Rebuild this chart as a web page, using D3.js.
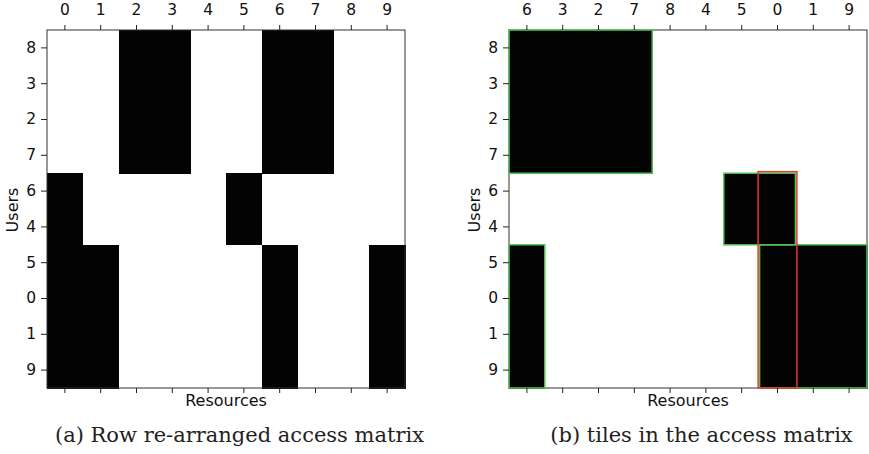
<!DOCTYPE html>
<html>
<head>
<meta charset="utf-8">
<script src="https://cdn.jsdelivr.net/npm/d3@7"></script>
<style>
  body { margin: 0; background: #fff; }
  .axis-label { font-family: "DejaVu Sans", sans-serif; font-size: 16px; fill: #111; }
  .caption { font-family: "DejaVu Serif", serif; font-size: 21px; fill: #222; }
</style>
</head>
<body>
<svg id="chart" width="869" height="454"></svg>
<script>
// Row order (users) shared by both panels
var users = ["8", "3", "2", "7", "6", "4", "5", "0", "1", "9"];

// Column orders (resources) of each panel
var resourcesA = ["0", "1", "2", "3", "4", "5", "6", "7", "8", "9"];
var resourcesB = ["6", "3", "2", "7", "8", "4", "5", "0", "1", "9"];

// Resources each user can access
var access = {
  "8": ["2", "3", "6", "7"],
  "3": ["2", "3", "6", "7"],
  "2": ["2", "3", "6", "7"],
  "7": ["2", "3", "6", "7"],
  "6": ["0", "5"],
  "4": ["0", "5"],
  "5": ["0", "1", "6", "9"],
  "0": ["0", "1", "6", "9"],
  "1": ["0", "1", "6", "9"],
  "9": ["0", "1", "6", "9"]
};

// Tiles found in the re-arranged matrix
var greenTiles = [
  { users: ["8", "3", "2", "7"], resources: ["6", "3", "2", "7"] },
  { users: ["6", "4"], resources: ["5", "0"] },
  { users: ["5", "0", "1", "9"], resources: ["6"] },
  { users: ["5", "0", "1", "9"], resources: ["0", "1", "9"] }
];
var redTiles = [
  { users: ["6", "4", "5", "0", "1", "9"], resources: ["0"] }
];

var captions = ["(a) Row re-arranged access matrix", "(b) tiles in the access matrix"];

var svg = d3.select("#chart");

// Style the tick marks and labels of an axis group
function styleAxis(a) {
  a.select(".domain").remove();
  a.attr("font-family", "DejaVu Sans, sans-serif").attr("font-size", 15.5);
  a.selectAll(".tick line").attr("stroke", "#222");
  a.selectAll(".tick text").attr("fill", "#111");
}

// Draw one access-matrix panel
function drawPanel(left, cols, caption, tiles) {
  var top = 30, size = 358;
  var g = svg.append("g").attr("transform", `translate(${left}, ${top})`);

  var x = d3.scaleBand().domain(cols).range([0, size]);
  var y = d3.scaleBand().domain(users).range([0, size]);

  // Flatten the matrix into cells
  var cells = [];
  users.forEach(function(u) {
    access[u].forEach(function(r) { cells.push({ u: u, r: r }); });
  });

  g.selectAll("rect.cell")
    .data(cells)
    .enter()
    .append("rect")
    .attr("class", "cell")
    .attr("x", function(d) { return x(d.r); })
    .attr("y", function(d) { return y(d.u); })
    .attr("width", x.bandwidth() + 0.5)
    .attr("height", y.bandwidth() + 0.5)
    .attr("shape-rendering", "crispEdges")
    .attr("fill", "#030303");

  // Frame (spines)
  g.append("rect")
    .attr("width", size)
    .attr("height", size)
    .attr("fill", "none")
    .attr("stroke", "#333")
    .attr("stroke-width", 1);

  // Tile outlines
  if (tiles) {
    tiles.forEach(function(t) {
      var pad = t.pad;
      g.selectAll(null)
        .data(t.list)
        .enter()
        .append("rect")
        .attr("x", function(d) { return d3.min(d.resources, x) - pad; })
        .attr("y", function(d) { return d3.min(d.users, y) - pad; })
        .attr("width", function(d) {
          return d3.max(d.resources, x) + x.bandwidth() - d3.min(d.resources, x) + 2 * pad;
        })
        .attr("height", function(d) {
          return d3.max(d.users, y) + y.bandwidth() - d3.min(d.users, y) + pad;
        })
        .attr("fill", "none")
        .attr("stroke", t.color)
        .attr("stroke-width", 1.5);
    });
  }

  // Top axis with labels
  g.append("g")
    .call(d3.axisTop(x).tickSize(5).tickPadding(10))
    .call(styleAxis);

  // Bottom axis, ticks only
  g.append("g")
    .attr("transform", `translate(0, ${size})`)
    .call(d3.axisBottom(x).tickSize(5).tickFormat(""))
    .call(styleAxis);

  // Left axis
  g.append("g")
    .call(d3.axisLeft(y).tickSize(6).tickPadding(5))
    .call(styleAxis);

  // Axis titles
  g.append("text")
    .attr("class", "axis-label")
    .attr("x", size / 2)
    .attr("y", size + 18)
    .attr("text-anchor", "middle")
    .text("Resources");

  g.append("text")
    .attr("class", "axis-label")
    .attr("transform", `translate(-29, ${180}) rotate(-90)`)
    .attr("text-anchor", "middle")
    .text("Users");

  // Caption
  g.append("text")
    .attr("class", "caption")
    .attr("x", size / 2 + 13.5)
    .attr("y", size + 54)
    .attr("text-anchor", "middle")
    .text(caption);
}

drawPanel(47, resourcesA, captions[0], null);
drawPanel(509, resourcesB, captions[1], [
  { list: greenTiles, color: "#52c152", pad: 0 },
  { list: redTiles, color: "#e8362e", pad: 1.5 }
]);
</script>
</body>
</html>
